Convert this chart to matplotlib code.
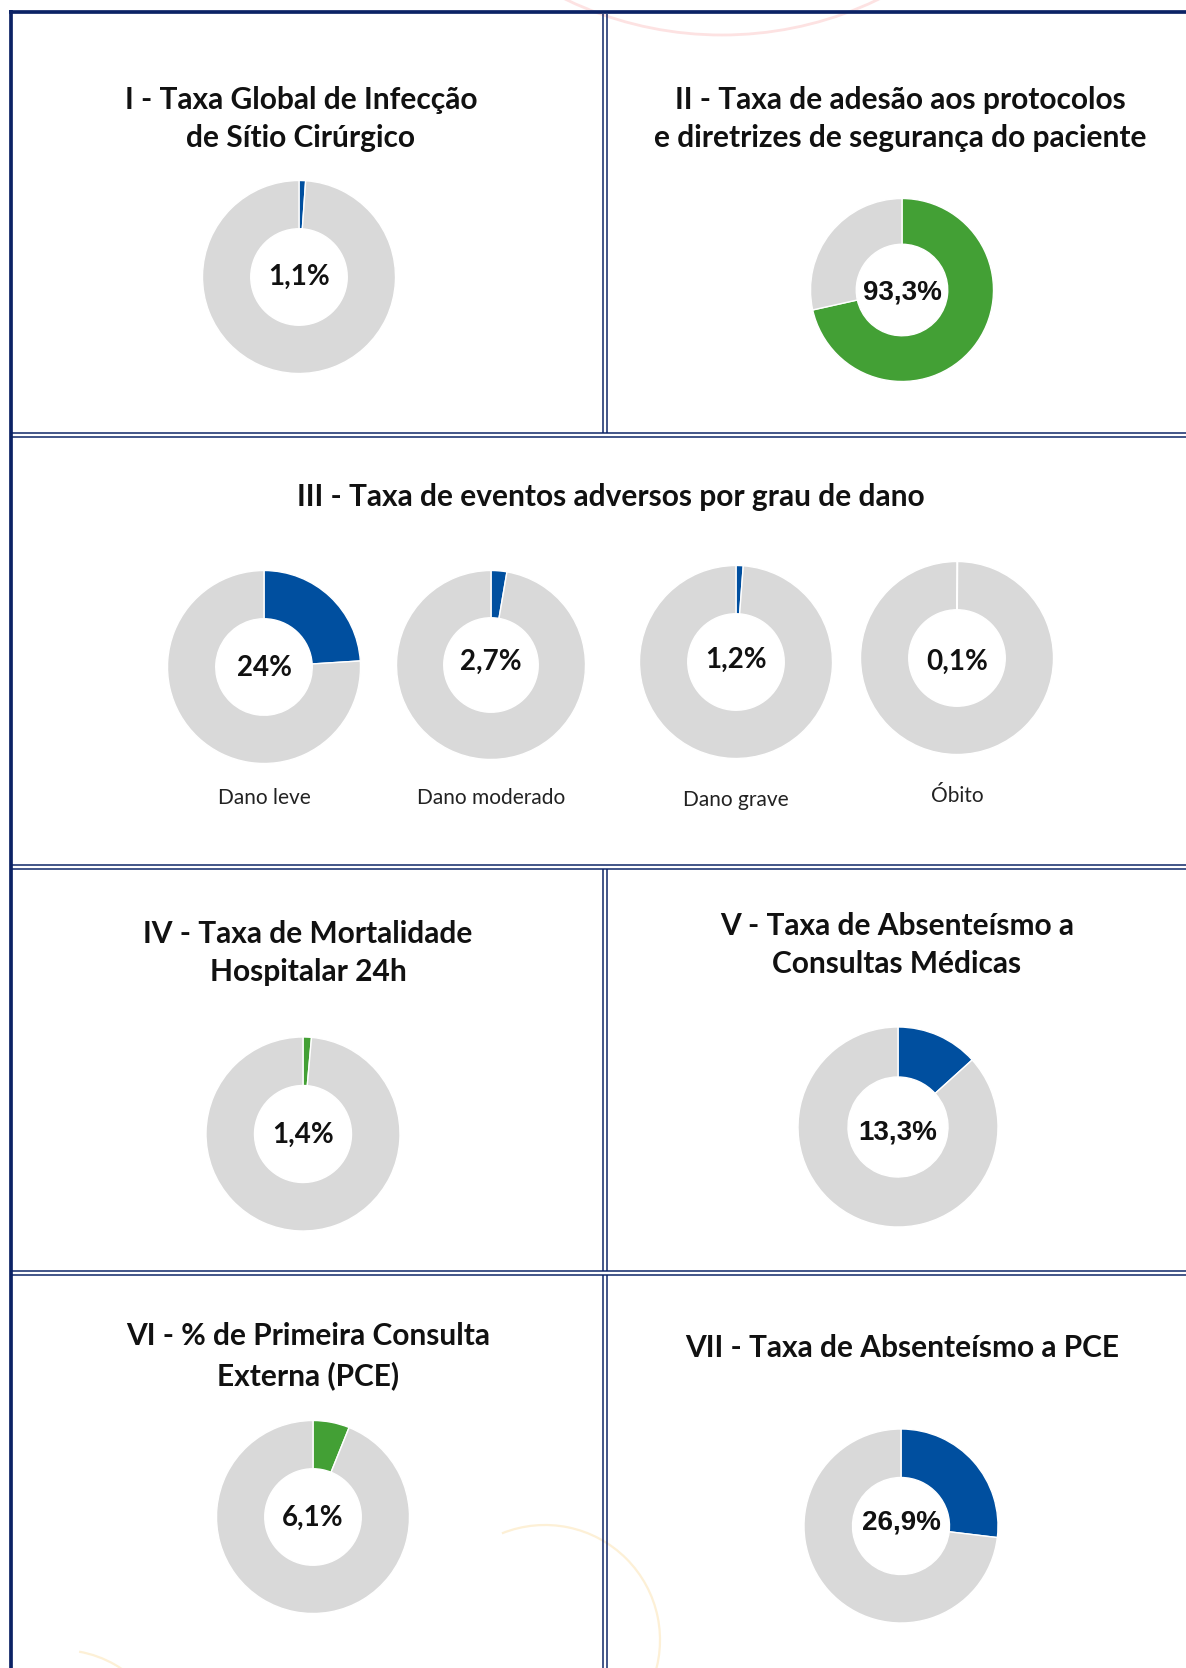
import matplotlib
matplotlib.use('Agg')
import matplotlib.pyplot as plt
from matplotlib.patches import Circle, Arc

W, H = 1186, 1668
DPI = 100

NAVY = '#0b2265'
BLUE = '#004f9f'
GREEN = '#43a035'
GRAY = '#d9d9d9'

# panel titles
titles = [
    'I - Taxa Global de Infecção\nde Sítio Cirúrgico',
    'II - Taxa de adesão aos protocolos\ne diretrizes de segurança do paciente',
    'III - Taxa de eventos adversos por grau de dano',
    'IV - Taxa de Mortalidade\nHospitalar 24h',
    'V - Taxa de Absenteísmo a\nConsultas Médicas',
    'VI - % de Primeira Consulta\nExterna (PCE)',
    'VII - Taxa de Absenteísmo a PCE',
]

# donut values (share of the ring drawn coloured) and their centre labels
donut_values = [1.1, 71.5, 24.0, 2.7, 1.2, 0.1, 1.4, 13.3, 6.1, 26.9]
donut_labels = ['1,1%', '93,3%', '24%', '2,7%', '1,2%', '0,1%', '1,4%', '13,3%', '6,1%', '26,9%']
donut_colors = [BLUE, GREEN, BLUE, BLUE, BLUE, BLUE, GREEN, BLUE, GREEN, BLUE]
harm_categories = ['Dano leve', 'Dano moderado', 'Dano grave', 'Óbito']


def px_axes(fig, cx, cy, r):
    return fig.add_axes([(cx - r) / W, 1 - (cy + r) / H, 2 * r / W, 2 * r / H])


def draw_donut(fig, cx, cy, r, value, color, label, font, ly=None):
    ax = px_axes(fig, cx, cy, r)
    ax.pie([value, 100 - value], colors=[color, GRAY], startangle=90,
           counterclock=False, radius=1.0,
           wedgeprops=dict(width=0.5, edgecolor='white', linewidth=1.0))
    ax.set_xlim(-1, 1)
    ax.set_ylim(-1, 1)
    ax.axis('off')
    ty = 0 if ly is None else -(ly - cy) / r
    ax.text(0, ty, label, ha='center', va='center', fontsize=20,
            fontweight='bold', family=font, color='#111111')


def main():
    fig = plt.figure(figsize=(W / DPI, H / DPI), dpi=DPI)
    bg = fig.add_axes([0, 0, 1, 1])
    bg.set_xlim(0, W)
    bg.set_ylim(H, 0)
    bg.axis('off')

    # faint decorative arcs of the page background
    bg.add_patch(Circle((722, -326), 361, fill=False, ec='#fde2e2', lw=2.0))
    bg.add_patch(Arc((545, 1640), 230, 230, theta1=-112, theta2=22,
                     ec='#fdf0d6', lw=1.6))
    bg.add_patch(Arc((60, 1760), 220, 220, theta1=-80, theta2=-40,
                     ec='#fdf0d6', lw=1.6))

    # panel frames
    thick = 3.7 * 0.72
    thin = 1.5 * 0.72
    bg.plot([8.6, W], [12, 12], color=NAVY, lw=thick, solid_capstyle='butt')
    bg.plot([10.5, 10.5], [10, H], color=NAVY, lw=thick, solid_capstyle='butt')
    for yb in [434.5, 866.8, 1273]:
        for dy in (-2, 2):
            bg.plot([10.5, W], [yb + dy, yb + dy], color=NAVY, lw=thin,
                    solid_capstyle='butt')
    for y0, y1 in [(13.5, 432.5), (868.8, 1271), (1275, H)]:
        for x in (603, 606.5):
            bg.plot([x, x], [y0, y1], color=NAVY, lw=thin, solid_capstyle='butt')

    tkw = dict(ha='center', va='center', fontsize=21.5, fontweight='bold',
               family='Lato', color='#111111', linespacing=1.44)
    bg.text(301, 119, titles[0], **tkw)
    bg.text(900, 119, titles[1], **tkw)
    bg.text(611, 497, titles[2], **tkw)
    bg.text(308, 953, titles[3], **tkw)
    bg.text(897, 945, titles[4], **tkw)
    bg.text(308, 1356, titles[5], **tkw)
    bg.text(902, 1348, titles[6], **tkw)

    calibri = ['Lato', 'DejaVu Sans']
    arial = ['Liberation Sans', 'DejaVu Sans']

    draw_donut(fig, 299, 277, 96.5, donut_values[0], donut_colors[0], donut_labels[0], calibri)
    draw_donut(fig, 902, 290, 91.5, donut_values[1], donut_colors[1], donut_labels[1], arial, ly=292)

    harm_pos = [(264, 667, 96.5, 668), (491, 665, 94.5, 662),
                (736, 662, 96.5, 660), (957, 658, 96.5, 662)]
    label_y = [798, 798, 800, 796]
    for i, (cx, cy, r, ly) in enumerate(harm_pos):
        draw_donut(fig, cx, cy, r, donut_values[2 + i], donut_colors[2 + i],
                   donut_labels[2 + i], calibri, ly=ly)
        bg.text(cx, label_y[i], harm_categories[i], ha='center', va='center',
                fontsize=15, family='Lato', color='#222222')

    draw_donut(fig, 303, 1134, 97, donut_values[6], donut_colors[6], donut_labels[6], calibri, ly=1135)
    draw_donut(fig, 898, 1127, 100, donut_values[7], donut_colors[7], donut_labels[7], arial, ly=1132)
    draw_donut(fig, 313, 1517, 96.5, donut_values[8], donut_colors[8], donut_labels[8], calibri, ly=1518)
    draw_donut(fig, 901, 1526, 97, donut_values[9], donut_colors[9], donut_labels[9], arial, ly=1522)

    fig.savefig('out.png', dpi=DPI, facecolor='white')


if __name__ == '__main__':
    main()
